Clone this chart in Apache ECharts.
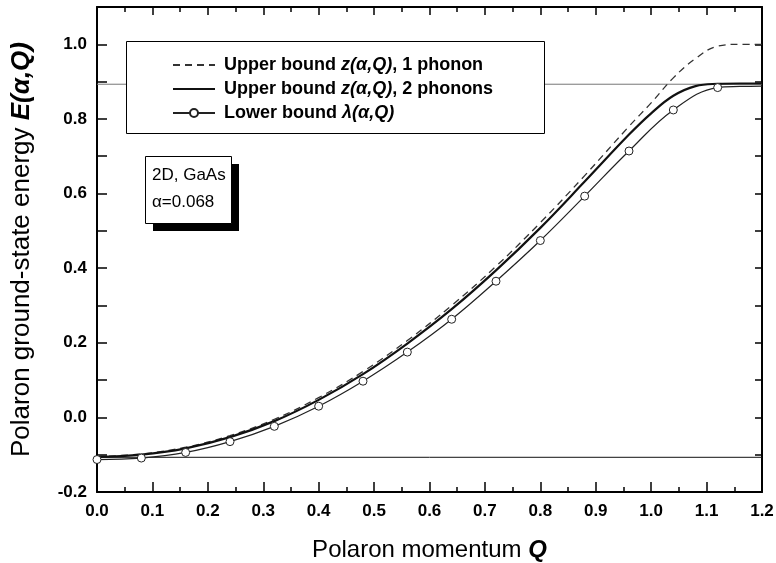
<!DOCTYPE html>
<html>
<head>
<meta charset="utf-8">
<script src="https://cdn.jsdelivr.net/npm/echarts@6/dist/echarts.min.js"></script>
<style>html,body{margin:0;padding:0;background:#fff}#c{width:776px;height:563px}</style>
</head>
<body>
<div id="c"></div>
<script>
// Polaron momentum Q values
const qUpper = [0, 0.08, 0.16, 0.24, 0.32, 0.40, 0.48, 0.56, 0.64, 0.72, 0.80, 0.88, 0.96, 1.00, 1.04, 1.08, 1.12, 1.16, 1.20];
// Upper bound z(α,Q), 1 phonon (dashed)
const upper1 = [-0.105, -0.098, -0.080, -0.049, -0.005, 0.053, 0.123, 0.206, 0.300, 0.405, 0.522, 0.648, 0.780, 0.843, 0.910, 0.962, 0.995, 1.000, 1.000];
// Upper bound z(α,Q), 2 phonons (solid)
const upper2 = [-0.106, -0.100, -0.083, -0.053, -0.010, 0.047, 0.116, 0.198, 0.290, 0.394, 0.508, 0.632, 0.758, 0.815, 0.862, 0.888, 0.894, 0.895, 0.895];
// Lower bound λ(α,Q) (with circles)
const qLower = [0, 0.08, 0.16, 0.24, 0.32, 0.40, 0.48, 0.56, 0.64, 0.72, 0.80, 0.88, 0.96, 1.04, 1.12, 1.16, 1.20];
const lower = [-0.113, -0.109, -0.094, -0.065, -0.024, 0.030, 0.097, 0.175, 0.263, 0.365, 0.474, 0.593, 0.714, 0.824, 0.884, 0.887, 0.888];
const lowerMarked = 15; // first 15 points carry a circle
// reference levels
const groundLevel = -0.107;
const thresholdLevel = 0.893;
const seriesNames = ['Upper bound z(α,Q), 1 phonon', 'Upper bound z(α,Q), 2 phonons', 'Lower bound λ(α,Q)'];
const boxLines = ['2D, GaAs', 'α=0.068'];

const FONT = "'Liberation Sans', Arial, Helvetica, sans-serif";
const chart = echarts.init(document.getElementById('c'), null, {renderer: 'canvas'});

const pairs = (xs, ys) => xs.map((x, i) => [x, ys[i]]);
const lowerData = qLower.map((x, i) => i < lowerMarked ? [x, lower[i]] : {value: [x, lower[i]], symbol: 'none'});

const tickFmt1 = v => (Math.round(v * 10) / 10).toFixed(1);
const tickFmtY = v => { const k = Math.round(v * 10); return (Math.abs(k) % 2 === 0) ? (k / 10).toFixed(1) : ''; };

const axisCommon = {
  axisLine: {show: true, onZero: false, lineStyle: {color: '#000', width: 2}},
  splitLine: {show: false}
};

chart.setOption({
  animation: false,
  backgroundColor: '#fff',
  grid: {left: 97, right: 14, top: 7, bottom: 71, containLabel: false, outerBoundsMode: 'none'},
  xAxis: [
    Object.assign({}, axisCommon, {
      type: 'value', min: 0, max: 1.2, interval: 0.1, position: 'bottom',
      axisTick: {show: true, inside: true, length: 10, lineStyle: {color: '#000', width: 1.5}},
      minorTick: {show: true, splitNumber: 2, length: 5, lineStyle: {color: '#000', width: 1.5}},
      axisLabel: {formatter: tickFmt1, color: '#000', fontFamily: FONT, fontWeight: 'bold', fontSize: 17, margin: 11},
      name: '{n|Polaron momentum }{q|Q}',
      nameLocation: 'middle', nameGap: 46,
      nameTextStyle: {rich: {
        n: {fontFamily: FONT, fontSize: 24, color: '#000'},
        q: {fontFamily: FONT, fontSize: 24, fontWeight: 'bold', fontStyle: 'italic', color: '#000'}
      }}
    }),
    Object.assign({}, axisCommon, {
      type: 'value', min: 0, max: 1.2, interval: 0.1, position: 'top',
      axisTick: {show: true, inside: true, length: 8, lineStyle: {color: '#000', width: 1.5}},
      minorTick: {show: true, splitNumber: 2, length: 5, lineStyle: {color: '#000', width: 1.5}},
      axisLabel: {show: false}
    })
  ],
  yAxis: [
    Object.assign({}, axisCommon, {
      type: 'value', min: -0.2, max: 1.1, interval: 0.1, position: 'left',
      axisTick: {show: true, inside: true, length: 10, lineStyle: {color: '#000', width: 1.5}},
      axisLabel: {formatter: tickFmtY, color: '#000', fontFamily: FONT, fontWeight: 'bold', fontSize: 17, margin: 10},
      name: '{n|Polaron ground-state energy }{q|E(α,Q)}',
      nameLocation: 'middle', nameGap: 62, nameRotate: 90,
      nameTextStyle: {rich: {
        n: {fontFamily: FONT, fontSize: 26, color: '#000'},
        q: {fontFamily: FONT, fontSize: 26, fontWeight: 'bold', fontStyle: 'italic', color: '#000'}
      }}
    }),
    Object.assign({}, axisCommon, {
      type: 'value', min: -0.2, max: 1.1, interval: 0.1, position: 'right',
      axisTick: {show: true, inside: true, length: 7, lineStyle: {color: '#000', width: 1.5}},
      axisLabel: {show: false}
    })
  ],
  legend: {
    data: [
      {name: seriesNames[0], itemStyle: {opacity: 0}},
      {name: seriesNames[1], itemStyle: {opacity: 0}},
      {name: seriesNames[2]}
    ],
    orient: 'vertical', left: 172, top: 56, padding: 0, itemGap: 6,
    itemWidth: 42, itemHeight: 10, z: 60,
    formatter: function (name) {
      const m = name.match(/^(.*?)([zλ]\(α,Q\))(.*)$/);
      return '{b|' + m[1] + '}{i|' + m[2] + '}{b|' + m[3] + '}';
    },
    textStyle: {
      padding: [0, 0, 0, 4],
      rich: {
        b: {fontFamily: FONT, fontSize: 18, fontWeight: 'bold', color: '#000', lineHeight: 20},
        i: {fontFamily: FONT, fontSize: 18, fontWeight: 'bold', fontStyle: 'italic', color: '#000', lineHeight: 20}
      }
    }
  },
  graphic: [
    {type: 'rect', z: 50, shape: {x: 126.5, y: 41.5, width: 418, height: 92}, style: {fill: '#fff', stroke: '#000', lineWidth: 1}},
    {type: 'rect', z: 50, shape: {x: 153, y: 164, width: 86, height: 67}, style: {fill: '#000'}},
    {type: 'rect', z: 51, shape: {x: 145.5, y: 156.5, width: 86, height: 67}, style: {fill: '#fff', stroke: '#000', lineWidth: 1}},
    {type: 'text', z: 52, left: 152, top: 162, style: {text: boxLines.join('\n'), fill: '#000', font: "17px " + FONT, lineHeight: 27}}
  ],
  series: [
    {
      name: seriesNames[0], type: 'line', data: pairs(qUpper, upper1), smooth: 0.4,
      symbol: 'none', z: 3,
      lineStyle: {color: '#333', width: 1.3, type: [7, 5]}, itemStyle: {color: '#333'}
    },
    {
      name: seriesNames[1], type: 'line', data: pairs(qUpper, upper2), smooth: 0.4,
      symbol: 'none', z: 4,
      lineStyle: {color: '#111', width: 2.2}, itemStyle: {color: '#111'}
    },
    {
      name: seriesNames[2], type: 'line', data: lowerData, smooth: 0.4,
      symbol: 'circle', symbolSize: 8, showSymbol: true, z: 5,
      lineStyle: {color: '#222', width: 1.2},
      itemStyle: {color: '#fff', borderColor: '#222', borderWidth: 1}
    },
    {
      name: 'threshold', type: 'line', data: [[0, thresholdLevel], [1.2, thresholdLevel]],
      symbol: 'none', z: 2, silent: true, lineStyle: {color: '#777', width: 1}
    },
    {
      name: 'ground', type: 'line', data: [[0, groundLevel], [1.2, groundLevel]],
      symbol: 'none', z: 2, silent: true, lineStyle: {color: '#111', width: 1}
    }
  ]
});
</script>
</body>
</html>
